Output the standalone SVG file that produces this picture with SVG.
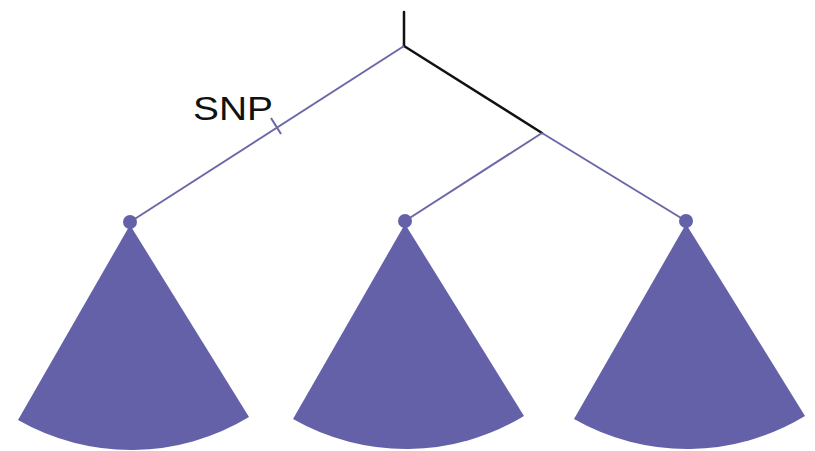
<svg xmlns="http://www.w3.org/2000/svg" width="815" height="451" viewBox="0 0 815 451">
<style>
.blk{stroke:#111;stroke-width:2.5;fill:none;stroke-linecap:round}
.pur{stroke:#6a68a8;stroke-width:2;fill:none}
.fan{fill:#6461a8}
.lbl{font-family:"Liberation Sans",Arial,sans-serif;font-size:33px;fill:#111}
</style>
<defs>
<path id="fanShape" d="M0,3 L-112,198 A228,228 0 0 0 119,195 Z"/>
</defs>
<rect width="815" height="451" fill="#fff"/>
<g id="connectors">
<line class="blk" x1="404" y1="12" x2="404" y2="46"/>
<line class="blk" x1="404" y1="46" x2="542" y2="133"/>
<line class="pur" x1="404" y1="46" x2="130" y2="222"/>
<line class="pur" x1="542" y1="133" x2="405" y2="221"/>
<line class="pur" x1="542" y1="133" x2="686" y2="221"/>
<line class="pur" x1="271" y1="118" x2="281" y2="134"/>
</g>
<g id="snp-label"><text class="lbl" x="193" y="120" textLength="80" lengthAdjust="spacingAndGlyphs">SNP</text></g>
<g id="clade-left" transform="translate(130,222)"><use href="#fanShape" class="fan"/><circle class="fan" r="7"/></g>
<g id="clade-middle" transform="translate(405,221)"><use href="#fanShape" class="fan"/><circle class="fan" r="7"/></g>
<g id="clade-right" transform="translate(686,221)"><use href="#fanShape" class="fan"/><circle class="fan" r="7"/></g>
</svg>
